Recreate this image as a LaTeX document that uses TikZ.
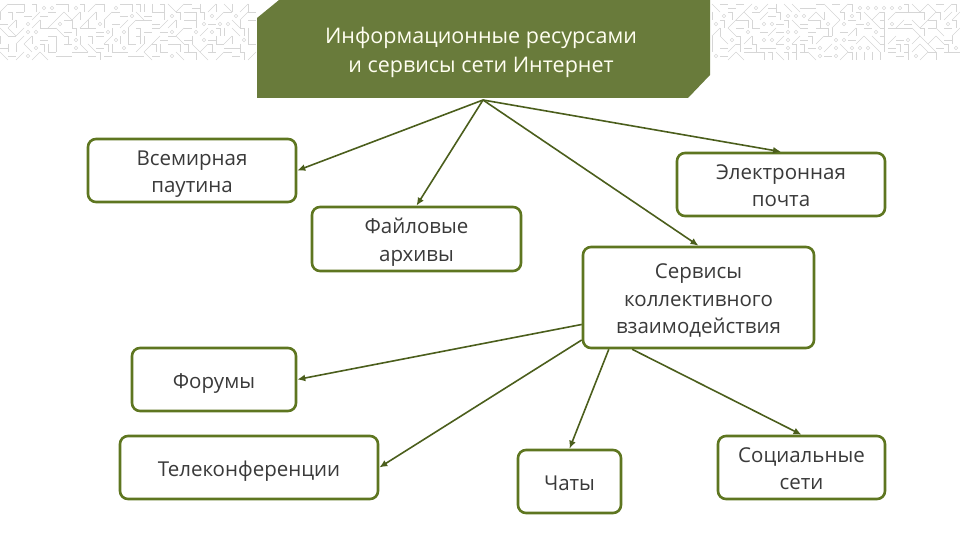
\documentclass[tikz,border=0pt]{standalone}
\usepackage{fontspec}
\setmainfont{Open Sans}
\usetikzlibrary{arrows.meta}
\definecolor{titlefill}{HTML}{697B3B}
\definecolor{boxline}{HTML}{5E7620}
\definecolor{arrowcol}{HTML}{4B5E1C}
\definecolor{txt}{HTML}{3A3A3A}
\newcommand{\lowtext}[1]{\raisebox{-3pt}[\height][\depth]{\begin{tabular}{@{}c@{}}#1\end{tabular}}}
\tikzset{
  box/.style={draw=boxline, line width=2.6pt, rounded corners=8pt, fill=white,
    text=txt, font=\fontsize{20.5}{27.5}\selectfont, inner sep=0pt},
  link/.style={draw=arrowcol, line width=1.6pt, -{Latex[length=8pt,width=7pt]}},
  pat/.style={draw=gray!32, line width=0.5pt}
}
\begin{document}
\begin{tikzpicture}[x=1pt,y=-1pt]
\useasboundingbox (0,0) rectangle (960,540);
% circuit-like background bands
\pgfmathsetseed{11}
\foreach \xs/\n in {0/31, 712/30}{
  \foreach \i in {0,...,\n}{
    \foreach \j in {0,...,6}{
      \pgfmathrandominteger{\r}{0}{6}
      \pgfmathsetmacro{\px}{\xs+\i*8}
      \pgfmathsetmacro{\py}{\j*8+4}
      \ifcase\r
        \draw[pat] (\px,\py) -- ++(8,0);
      \or
        \draw[pat] (\px,\py) -- ++(0,8);
      \or
        \draw[pat] (\px,\py) -- ++(8,8);
      \or
        \draw[pat] (\px,\py+8) -- ++(8,-8);
      \or
        \draw[pat] (\px+4,\py+4) circle (1.8);
      \or
        \draw[pat] (\px,\py) -- ++(4,0) -- ++(0,8);
      \else
        \draw[pat] (\px,\py+4) -- ++(8,0);
      \fi
    }
  }
}
% title
\fill[titlefill] (257,18) -- (279,0) -- (710,0) -- (710,75) -- (688,98) -- (257,98) -- cycle;
\node[text=white!94!yellow, align=center, font=\fontsize{21.5}{29}\selectfont] (title) at (481,52)
  {Информационные ресурсами\\и сервисы сети Интернет};
\coordinate (hub) at (483,100);
% boxes
\node[box, minimum width=208, minimum height=63] (web) at (192,170.5) {\lowtext{Всемирная\\паутина}};
\node[box, minimum width=209, minimum height=64] (files) at (416.5,239) {\lowtext{Файловые\\архивы}};
\node[box, minimum width=208, minimum height=63] (mail) at (781,184.5) {\lowtext{Электронная\\почта}};
\node[box, minimum width=231, minimum height=101] (coll) at (698.5,297.5) {\lowtext{Сервисы\\коллективного\\взаимодействия}};
\node[box, minimum width=164, minimum height=63] (forum) at (214,379.5) {\lowtext{Форумы}};
\node[box, minimum width=258, minimum height=63] (tele) at (249,467.5) {\lowtext{Телеконференции}};
\node[box, minimum width=103, minimum height=63] (chat) at (569.5,481.5) {\lowtext{Чаты}};
\node[box, minimum width=167, minimum height=63] (social) at (801.5,467.5) {\lowtext{Социальные\\сети}};
% connectors
\draw[link] (hub) -- (web.east);
\draw[link] (hub) -- (files.north);
\draw[link] (hub) -- (coll.north);
\draw[link] (hub) -- (mail.north);
\draw[link] (coll.193) -- (forum.east);
\draw[link] (coll.200) -- (tele.east);
\draw[link] (coll.210) -- (chat.north);
\draw[link] (coll.218) -- (social.north);
\end{tikzpicture}
\end{document}
